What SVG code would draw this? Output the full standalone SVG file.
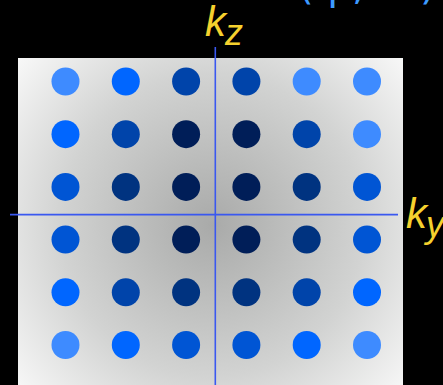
<svg xmlns="http://www.w3.org/2000/svg" width="443" height="385" viewBox="0 0 443 385">
<defs>
<radialGradient id="bg" gradientUnits="userSpaceOnUse" cx="212" cy="225" r="275">
<stop offset="0" stop-color="#a9aaa9"/>
<stop offset="0.55" stop-color="#d2d3d2"/>
<stop offset="1" stop-color="#ffffff"/>
</radialGradient>
<style>
.l{fill:#3e8bff}.b{fill:#0066ff}.m{fill:#0055d4}.n{fill:#0044aa}.d{fill:#003380}.k{fill:#001e58}
.ax{stroke:#3a58f0;stroke-width:1.6;fill:none}
.lab{font-family:"Liberation Sans",Arial,sans-serif;font-style:italic;fill:#f5d12e}
</style>
</defs>
<rect width="443" height="385" fill="#000"/>
<text x="298" y="-1" font-family="'DejaVu Sans',sans-serif" font-size="40" fill="#3d9bff" letter-spacing="6">(φ, θ)</text>
<g id="plane">
<rect x="18" y="58" width="385" height="385" fill="url(#bg)"/>
</g>
<g id="dots">
<g id="row1"><circle class="l" cx="65.5" cy="81.5" r="14"/><circle class="b" cx="125.8" cy="81.5" r="14"/><circle class="n" cx="186.1" cy="81.5" r="14"/><circle class="n" cx="246.4" cy="81.5" r="14"/><circle class="l" cx="306.7" cy="81.5" r="14"/><circle class="l" cx="367" cy="81.5" r="14"/></g>
<g id="row2"><circle class="b" cx="65.5" cy="134.2" r="14"/><circle class="n" cx="125.8" cy="134.2" r="14"/><circle class="k" cx="186.1" cy="134.2" r="14"/><circle class="k" cx="246.4" cy="134.2" r="14"/><circle class="n" cx="306.7" cy="134.2" r="14"/><circle class="l" cx="367" cy="134.2" r="14"/></g>
<g id="row3"><circle class="m" cx="65.5" cy="186.9" r="14"/><circle class="d" cx="125.8" cy="186.9" r="14"/><circle class="k" cx="186.1" cy="186.9" r="14"/><circle class="k" cx="246.4" cy="186.9" r="14"/><circle class="d" cx="306.7" cy="186.9" r="14"/><circle class="m" cx="367" cy="186.9" r="14"/></g>
<g id="row4"><circle class="m" cx="65.5" cy="239.6" r="14"/><circle class="d" cx="125.8" cy="239.6" r="14"/><circle class="k" cx="186.1" cy="239.6" r="14"/><circle class="k" cx="246.4" cy="239.6" r="14"/><circle class="d" cx="306.7" cy="239.6" r="14"/><circle class="m" cx="367" cy="239.6" r="14"/></g>
<g id="row5"><circle class="b" cx="65.5" cy="292.3" r="14"/><circle class="n" cx="125.8" cy="292.3" r="14"/><circle class="d" cx="186.1" cy="292.3" r="14"/><circle class="d" cx="246.4" cy="292.3" r="14"/><circle class="n" cx="306.7" cy="292.3" r="14"/><circle class="b" cx="367" cy="292.3" r="14"/></g>
<g id="row6"><circle class="l" cx="65.5" cy="345" r="14"/><circle class="b" cx="125.8" cy="345" r="14"/><circle class="m" cx="186.1" cy="345" r="14"/><circle class="m" cx="246.4" cy="345" r="14"/><circle class="b" cx="306.7" cy="345" r="14"/><circle class="l" cx="367" cy="345" r="14"/></g>
</g>
<g id="axes">
<line class="ax" x1="215.3" y1="47" x2="215.3" y2="385"/>
<line class="ax" x1="10" y1="214.6" x2="398" y2="214.6"/>
</g>
<g id="label-kz"><text class="lab" x="205" y="36" font-size="42">k<tspan font-size="36" dx="-1" dy="9">z</tspan></text></g>
<g id="label-ky"><text class="lab" x="406" y="228" font-size="42">k<tspan font-size="36" dx="-1" dy="9">y</tspan></text></g>
</svg>
